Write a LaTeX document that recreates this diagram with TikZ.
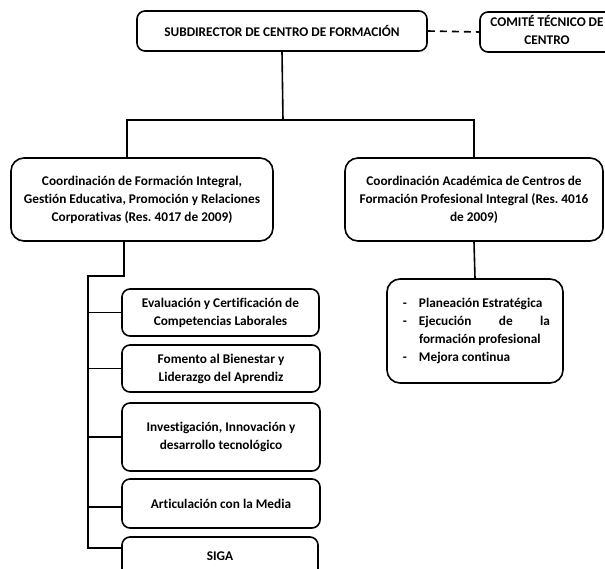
\documentclass[tikz,border=0pt]{standalone}
\usepackage{fontspec}
\setmainfont[Ligatures=NoCommon]{Carlito}
\frenchspacing
\begin{document}
\begin{tikzpicture}[x=1pt,y=-1pt,
  every node/.style={font=\bfseries\fontsize{13.3}{18}\selectfont},
  box/.style={draw,line width=1.6pt,rounded corners=8pt,align=center,inner sep=0pt},
  bigbox/.style={box,rounded corners=13pt},
  link/.style={line width=1.6pt},
  assoc/.style={line width=1.6pt,dash pattern=on 7pt off 5pt}]
\useasboundingbox (0,0) rectangle (605,568);

% head of the centre and its committee
\node[box,minimum width=290,minimum height=40] (top) at (282,31) {SUBDIRECTOR DE CENTRO DE FORMACIÓN};
\node[box,minimum width=145,minimum height=40] (comite) at (552.5,32)
  {\raisebox{-2pt}{\begin{tabular}{@{}c@{}}COMITÉ TÉCNICO DE\\CENTRO\end{tabular}}\hspace*{11pt}};
\draw[assoc] (top.east) -- (comite.west);

% the two coordinations
\node[bigbox,minimum width=262,minimum height=83] (coordA) at (142,199.5)
  {Coordinación de Formación Integral,\\Gestión Educativa, Promoción y Relaciones\\Corporativas (Res. 4017 de 2009)};
\node[bigbox,minimum width=258,minimum height=83] (coordB) at (474,199.5)
  {Coordinación Académica de Centros de\\Formación Profesional Integral (Res. 4016\\de 2009)};

\coordinate (bar) at (283,120);
\coordinate (inA) at (127,158);
\coordinate (inB) at (474,158);
\draw[link] (top.south) -- (bar);
\draw[link] (inA) |- (bar) -| (inB);

% functions of the academic coordination
\node[bigbox,minimum width=176,minimum height=104] (plan) at (475,331)
  {\hspace*{19pt}\parbox[c]{131pt}{\fontsize{13.3}{18}\selectfont
    \noindent\llap{-\hspace{12pt}}Planeación Estratégica\par
    \noindent\llap{-\hspace{12pt}}Ejecución de la\linebreak formación profesional\par
    \noindent\llap{-\hspace{12pt}}Mejora continua}};
\draw[link] (coordB.south) -- (plan.north);

% groups under the integral-training coordination
\node[box,minimum width=197,minimum height=47] (g1) at (220.5,312.5) {Evaluación y Certificación de\\Competencias Laborales};
\node[box,minimum width=198,minimum height=47] (g2) at (221,368.5) {Fomento al Bienestar y\\Liderazgo del Aprendiz};
\node[box,minimum width=198,minimum height=68] (g3) at (221,437) {Investigación, Innovación y\\desarrollo tecnológico};
\node[box,minimum width=198,minimum height=49] (g4) at (221,503.5) {Articulación con la Media};
% the last box runs past the lower edge of the page
\node[box,minimum width=196,minimum height=44] (g5) at (220,559) {\raisebox{6pt}{SIGA}};

\coordinate (outA) at (124,241);
\coordinate (stepA) at (124,276);
\coordinate (spine) at (88,276);
\coordinate (spineEnd) at (88,548);
\draw[link] (outA) -- (stepA) -- (spine) -- (spineEnd) -- (spineEnd -| g5.west);
\draw[link] (spine |- g1.west) -- (g1.west);
\draw[link] (spine |- g2.west) -- (g2.west);
\draw[link] (spine |- g3.west) -- (g3.west);
\draw[link] (88,507) -- (88,507 -| g4.west);
\end{tikzpicture}
\end{document}
